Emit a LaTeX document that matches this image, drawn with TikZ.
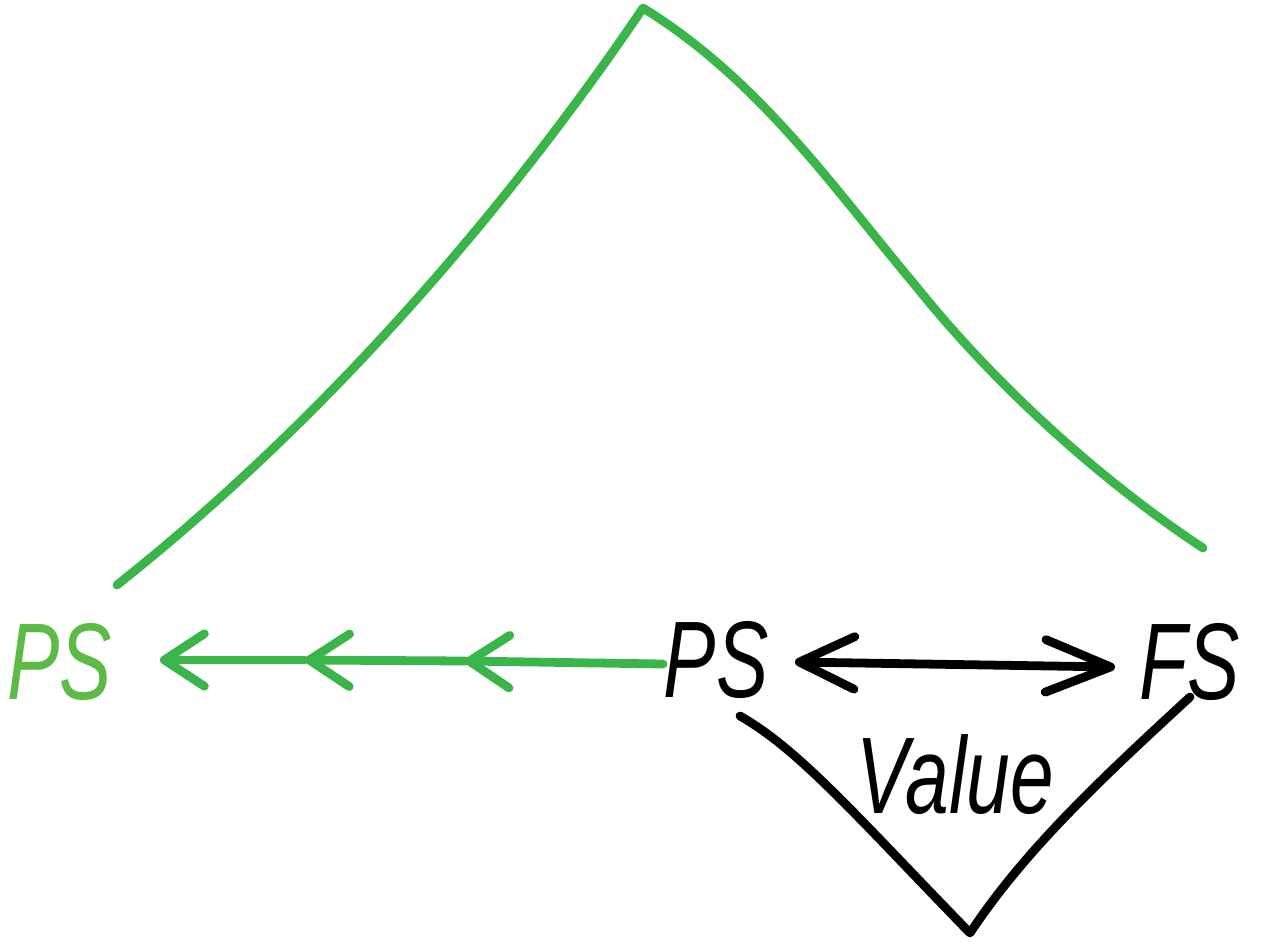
\documentclass[tikz,border=0pt]{standalone}
\usepackage{fontspec}
\newfontfamily\handfont[FakeStretch=0.72]{Liberation Sans}
\usetikzlibrary{arrows.meta}
\definecolor{pgreen}{RGB}{58,181,74}
\definecolor{lgreen}{RGB}{92,186,70}
\tikzset{
  hand/.style={font=\handfont\fontsize{62}{62}\selectfont\itshape, inner sep=0pt},
  gline/.style={draw=pgreen, line width=5pt, line cap=round, line join=round},
  bline/.style={draw=black, line width=5pt, line cap=round, line join=round},
  barb/.style={-{Straight Barb[length=0.8cm, width=1.05cm, round]}},
}
\begin{document}
\begin{tikzpicture}[x=0.02cm, y=-0.02cm]
\useasboundingbox (0,0) rectangle (1269,947);
% labels
\node[hand, text=lgreen] (gps) at (60,662) {PS};
\node[hand] (ps) at (716,660) {PS};
\node[hand] (fs) at (1190,662) {FS};
\node[hand] (val) at (955,775) {Value};
% coordinates
\coordinate (gstart) at (117,585);
\coordinate (gpeak) at (643,8);
\coordinate (gmid) at (915,285);
\coordinate (gend) at (1203,548);
\coordinate (c1) at (305,660);
\coordinate (c2) at (465,661);
\coordinate (gtip) at (160,660);
\coordinate (psw) at (663,664);
\coordinate (dl) at (795,662);
\coordinate (dr) at (1115,667);
\coordinate (vl) at (740,716);
\coordinate (vb) at (970,933);
\coordinate (vr) at (1190,697);
% green hump
\draw[gline] (gstart) .. controls (350,400) and (530,175) .. (gpeak)
  .. controls (760,80) and (835,190) .. (gmid)
  .. controls (995,385) and (1100,480) .. (gend);
% green arrows
\draw[gline, barb] (psw) -- (c2);
\draw[gline, barb] (c2) -- (c1);
\draw[gline, barb] (c1) -- (gtip);
% black double arrow
\draw[bline, {Straight Barb[length=1.1cm, width=1.05cm, round]}-{Straight Barb[length=1.3cm, width=1.05cm, round]}] (dl) -- (dr);
% value V
\draw[bline] (vl) .. controls (800,750) and (860,820) .. (vb) .. controls (1025,850) and (1100,780) .. (vr);
\end{tikzpicture}
\end{document}
